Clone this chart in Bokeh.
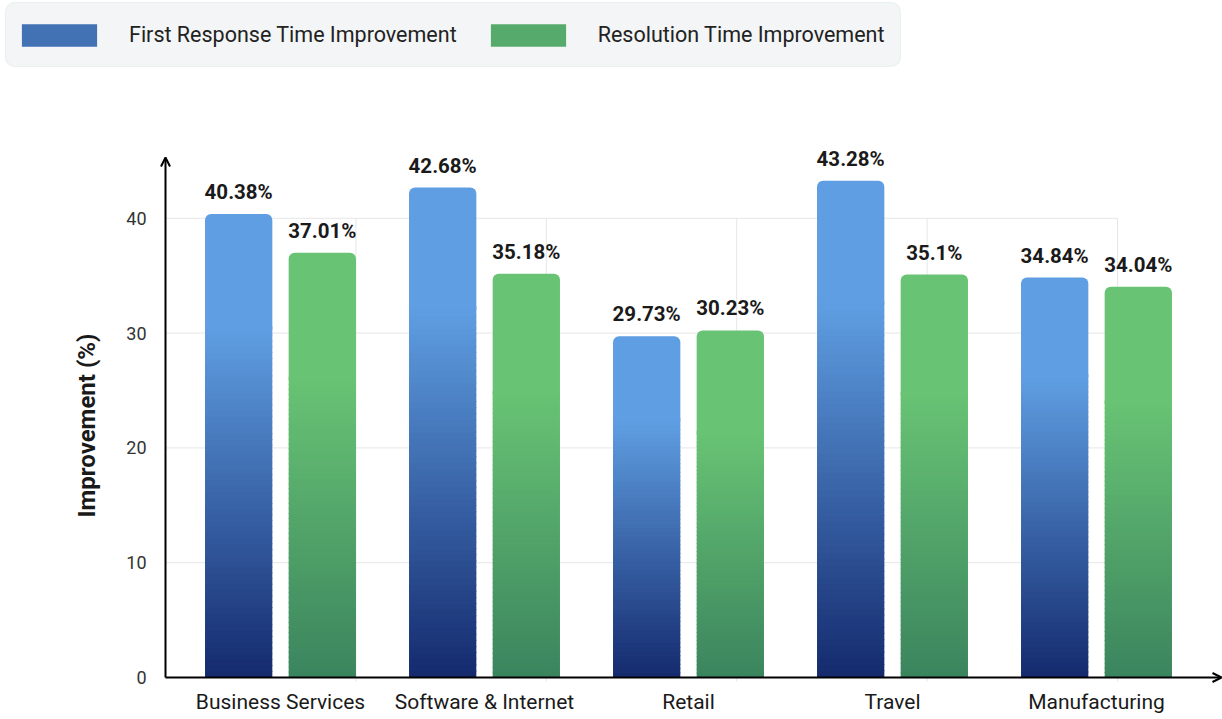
import numpy as np
from bokeh.plotting import figure
from bokeh.models import (Range1d, FixedTicker, Arrow, OpenHead, ColumnDataSource,
                          Legend, LegendItem)
from bokeh.core.properties import value
from bokeh.embed import file_html
from bokeh.resources import INLINE

# ---------------- data ----------------
categories = ["Business Services", "Software & Internet", "Retail", "Travel", "Manufacturing"]
first_response = [40.38, 42.68, 29.73, 43.28, 34.84]
resolution = [37.01, 35.18, 30.23, 35.1, 34.04]
series_names = ["First Response Time Improvement", "Resolution Time Improvement"]
y_ticks = [0, 10, 20, 30, 40]

# ---------------- style ----------------
FONT = "Roboto"
BLUE_DARK, BLUE_LIGHT = (20, 42, 109), (95, 158, 226)
GREEN_DARK, GREEN_LIGHT = (59, 132, 94), (104, 195, 116)


def mix(c1, c2, t):
    return "#%02x%02x%02x" % tuple(int(round(a + (b - a) * t)) for a, b in zip(c1, c2))


W, H = 1222, 719
PXX = 204.0          # px per category unit
PXY = 11.48          # px per y unit
AXIS_PX_X, AXIS_PX_Y = 165, 677   # where the axes cross on the page
GROUP0_PX = 280
X0 = 0.5 - GROUP0_PX / PXX
X1 = X0 + W / PXX
Y0 = -(H - AXIS_PX_Y) / PXY
Y1 = Y0 + H / PXY


def dx(px):
    return X0 + px / PXX


def dy(py):
    return Y0 + (H - py) / PXY


X_AX = dx(AXIS_PX_X)
GRID_R = dx(AXIS_PX_X + 952)

p = figure(width=W, height=H, x_range=Range1d(X0, X1), y_range=Range1d(Y0, Y1),
           output_backend="svg", toolbar_location=None, title=None,
           min_border_left=0, min_border_right=0, min_border_top=0, min_border_bottom=0)
p.outline_line_color = None
p.xgrid.visible = False
p.ygrid.visible = False
p.background_fill_color = "white"
p.border_fill_color = "white"

# decorative grid
p.segment(x0=[X_AX] * len(y_ticks), y0=y_ticks, x1=[GRID_R] * len(y_ticks), y1=y_ticks,
          line_color="#e6e6e6", line_width=1)
vx = [X_AX + k * (GRID_R - X_AX) / 5 for k in range(1, 6)]
p.segment(x0=vx, y0=[dy(681)] * 5, x1=vx, y1=[y_ticks[-1]] * 5, line_color="#e6e6e6", line_width=1)

# gradient bars
BAR_W = 0.33
OFFS = [-0.205, 0.205]
N = 60


def draw_series(vals, off, dark, light, stop):
    L, R, B, T, C = [], [], [], [], []
    for i, v in enumerate(vals):
        xc = i + 0.5 + off
        g = v * stop
        for j in range(N):
            b = g * j / N
            t = g * (j + 1) / N + (0.08 if j < N - 1 else 0.3)
            L.append(xc - BAR_W / 2)
            R.append(xc + BAR_W / 2)
            B.append(b)
            T.append(t)
            C.append(mix(dark, light, (j + 0.5) / N))
    src = ColumnDataSource(dict(left=L, right=R, bottom=B, top=T, color=C))
    r = p.quad(left="left", right="right", bottom="bottom", top="top", fill_color="color",
               line_color=None, source=src)
    xs = [i + 0.5 + off for i in range(len(vals))]
    p.vbar(x=xs, top=vals, bottom=[v * stop for v in vals], width=BAR_W,
           fill_color=mix(light, light, 0), line_color=None, border_radius=(6, 6, 0, 0))
    p.text(x=xs, y=vals, text=[f"{v:g}%" for v in vals], text_font=value(FONT),
           text_font_style="bold", text_font_size="20.5px", text_align="center",
           text_baseline="bottom", y_offset=-10, text_color="#1a1a1a")
    return r


r_blue = draw_series(first_response, OFFS[0], BLUE_DARK, BLUE_LIGHT, 0.75)
r_green = draw_series(resolution, OFFS[1], GREEN_DARK, GREEN_LIGHT, 0.70)

# axes (fixed at the crossing point, so the frame fills the whole canvas)
p.xaxis.fixed_location = 0
p.xaxis.ticker = FixedTicker(ticks=[i + 0.5 for i in range(len(categories))])
p.xaxis.major_label_overrides = {i + 0.5: c for i, c in enumerate(categories)}
p.xaxis.axis_label = None
p.xaxis.axis_line_color = None
p.xaxis.major_tick_line_color = None
p.xaxis.minor_tick_line_color = None
p.xaxis.major_tick_out = 0
p.xaxis.major_tick_in = 0
p.xaxis.major_label_text_font = FONT
p.xaxis.major_label_text_font_size = "21px"
p.xaxis.major_label_text_color = "#1a1a1a"
p.xaxis.major_label_standoff = 12

p.yaxis.fixed_location = X_AX
p.yaxis.bounds = (0, 2 * dy(425))          # centres the axis title where the reference has it
p.yaxis.ticker = FixedTicker(ticks=y_ticks)
p.yaxis.axis_line_color = None
p.yaxis.major_tick_line_color = None
p.yaxis.minor_tick_line_color = None
p.yaxis.major_tick_out = 0
p.yaxis.major_tick_in = 0
p.yaxis.major_label_text_font = FONT
p.yaxis.major_label_text_font_size = "18px"
p.yaxis.major_label_text_color = "#333333"
p.yaxis.major_label_standoff = 19
p.yaxis.axis_label = "Improvement (%)"
p.yaxis.axis_label_text_font = FONT
p.yaxis.axis_label_text_font_style = "bold"
p.yaxis.axis_label_text_font_size = "24px"
p.yaxis.axis_label_text_color = "#1a1a1a"
p.yaxis.axis_label_standoff = 22

# axis arrows
p.add_layout(Arrow(end=OpenHead(size=9, line_width=2, line_color="black"),
                   x_start=X_AX, y_start=0, x_end=X_AX, y_end=dy(157),
                   line_width=2, line_color="black"))
p.add_layout(Arrow(end=OpenHead(size=9, line_width=2, line_color="black"),
                   x_start=X_AX, y_start=0, x_end=dx(1221), y_end=0,
                   line_width=2, line_color="black"))

# ---------------- legend ----------------
legend = Legend(items=[LegendItem(label=series_names[0], renderers=[r_blue], index=36),
                       LegendItem(label=series_names[1], renderers=[r_green], index=36)],
                orientation="horizontal",
                location=(5, H - 3 - 64),
                glyph_width=94, glyph_height=28, label_standoff=23, spacing=24,
                label_height=51, label_width=296,
                padding=6, margin=0,
                label_text_font=FONT, label_text_font_size="21.5px",
                label_text_color="#222222",
                background_fill_color="#f3f5f6", background_fill_alpha=1.0,
                border_line_color="#dcede3", border_line_width=1)
if "border_radius" in Legend.properties():
    legend.border_radius = 10
p.add_layout(legend, "center")

# horizontal gradient drawn over the legend swatches
SW_LEFT = [19.5, 488.5]
SW_W = 78
SW_TOP, SW_BOT = 23.5, 47.5
sw_cols = [((40, 76, 154), (100, 163, 230)), ((61, 138, 94), (108, 199, 122))]
NS = 26
sl, sr, sb, st, sc = [], [], [], [], []
for k in range(2):
    d, l = sw_cols[k]
    for j in range(NS):
        sl.append(dx(SW_LEFT[k] + SW_W * j / NS))
        sr.append(dx(SW_LEFT[k] + SW_W * (j + 1) / NS + (0.6 if j < NS - 1 else 0)))
        st.append(dy(SW_TOP))
        sb.append(dy(SW_BOT))
        sc.append(mix(d, l, (j + 0.5) / NS))
p.quad(left=sl, right=sr, bottom=sb, top=st, fill_color=sc, line_color=None, level="overlay")

open("out.html", "w").write(file_html(p, INLINE))
